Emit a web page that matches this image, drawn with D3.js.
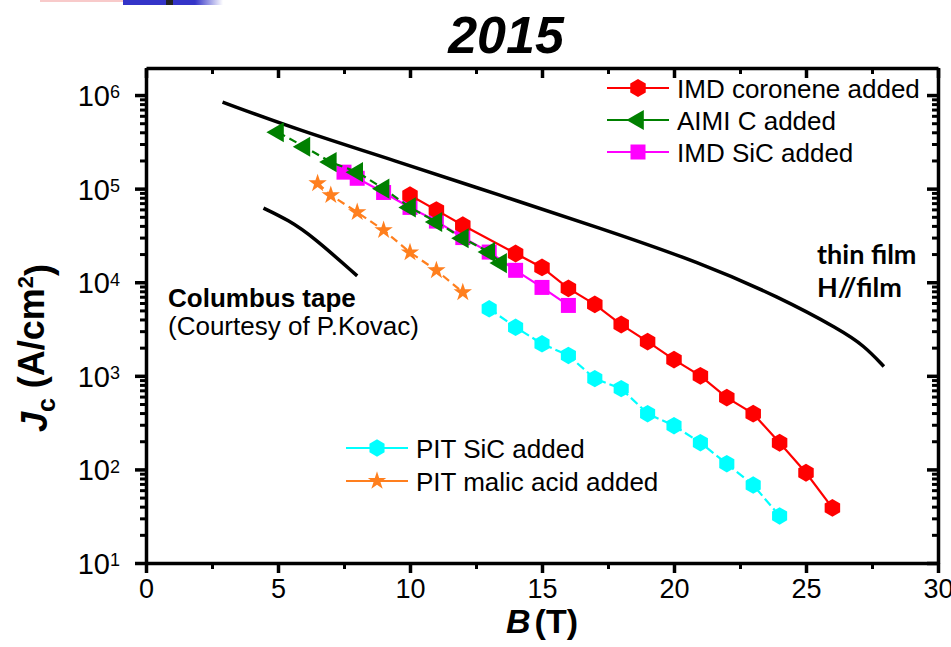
<!DOCTYPE html>
<html>
<head>
<meta charset="utf-8">
<script src="https://cdn.jsdelivr.net/npm/d3@7"></script>
<style>
  body { margin: 0; background: #fff; }
  svg { display: block; font-family: "Liberation Sans", Arial, sans-serif; }
</style>
</head>
<body>
<div id="chart"></div>
<script>
// ---- data ----
const xMajor = [0, 5, 10, 15, 20, 25, 30];
const xMinor = [2.5, 7.5, 12.5, 17.5, 22.5, 27.5];
const yMajor = [1e1, 1e2, 1e3, 1e4, 1e5, 1e6];

// black reference curves
const thinFilmB = [2.9, 5.8, 9.6, 13.4, 17.2, 21.0, 24.0, 26.3, 27.2, 27.95];
const thinFilmJc = [8.4e5, 4.2e5, 1.92e5, 8.5e4, 3.8e4, 1.62e4, 6.9e3, 3.1e3, 2.1e3, 1.26e3];
const columbusB = [4.45, 5.4, 6.3, 8.0];
const columbusJc = [6.2e4, 4.6e4, 3.1e4, 1.17e4];

// IMD coronene added
const coroneneB = [10, 11, 12, 14, 15, 16, 17, 18, 19, 20, 21, 22, 23, 24, 25, 26];
const coroneneJc = [8.5e4, 5.9e4, 4.06e4, 2.03e4, 1.44e4, 8.6e3, 5.8e3, 3.53e3, 2.32e3, 1.49e3, 1.0e3, 585, 394, 193, 92, 38.8];
// AIMI C added
const aimiB = [5, 6, 7, 8, 9, 10, 11, 12, 13, 13.45];
const aimiJc = [4.0e5, 2.8e5, 1.92e5, 1.5e5, 1.0e5, 6.3e4, 4.4e4, 2.95e4, 2.1e4, 1.6e4];
// IMD SiC added
const imdSicB = [7.5, 8, 9, 10, 11, 12, 13, 14, 15, 16];
const imdSicJc = [1.5e5, 1.29e5, 9.1e4, 6.3e4, 4.5e4, 3.0e4, 2.1e4, 1.34e4, 8.8e3, 5.65e3];
// PIT SiC added
const pitSicB = [13, 14, 15, 16, 17, 18, 19, 20, 21, 22, 23, 24];
const pitSicJc = [5.2e3, 3.3e3, 2.2e3, 1.65e3, 933, 730, 394, 293, 193, 115, 68, 31.8];
// PIT malic acid added
const malicB = [6.5, 7, 8, 9, 10, 11, 12];
const malicJc = [1.14e5, 8.5e4, 5.6e4, 3.6e4, 2.08e4, 1.34e4, 7.8e3];

const W = 951, H = 647;
const x = d3.scaleLinear().domain([0, 30]).range([146, 938]);
const y = d3.scaleLog().domain([10, Math.pow(10, 6.289)]).range([563, 68]);

const svg = d3.select("#chart").append("svg")
    .attr("width", W)
    .attr("height", H);

// leftover strip of the slide header at the very top
const grad = svg.append("defs").append("linearGradient").attr("id", "fade");
grad.append("stop").attr("offset", "0").attr("stop-color", "#3434c8");
grad.append("stop").attr("offset", "1").attr("stop-color", "#ffffff");
svg.append("rect").attr("x", 40).attr("y", 0).attr("width", 112).attr("height", 2).attr("fill", "#f8caca");
svg.append("rect").attr("x", 123).attr("y", 0).attr("width", 72).attr("height", 5).attr("fill", "#3434c8");
svg.append("rect").attr("x", 166).attr("y", 0).attr("width", 7).attr("height", 5).attr("fill", "#222");
svg.append("rect").attr("x", 195).attr("y", 0).attr("width", 28).attr("height", 5).attr("fill", "url(#fade)");

// title
svg.append("text")
    .attr("x", 506).attr("y", 53)
    .attr("text-anchor", "middle")
    .attr("font-size", 52).attr("font-weight", "bold").attr("font-style", "italic")
    .text("2015");

// ---- axes (frame with mirrored ticks) ----
const styleAxis = (g) => {
    g.select(".domain").attr("stroke-width", 3.5).attr("stroke", "#000");
    g.selectAll(".tick line").attr("stroke-width", 3.5).attr("stroke", "#000");
};
const styleMinor = (g) => {
    g.select(".domain").remove();
    g.selectAll(".tick line").attr("stroke-width", 3).attr("stroke", "#000");
};

// bottom
svg.append("g")
    .attr("transform", "translate(0," + y.range()[0] + ")")
    .call(d3.axisBottom(x).tickValues(xMajor).tickSize(10).tickSizeOuter(0).tickPadding(6).tickFormat(d3.format("d")))
    .call(styleAxis)
    .call(g => g.selectAll(".tick text").attr("font-size", 27).attr("fill", "#000"));
svg.append("g")
    .attr("transform", "translate(0," + y.range()[0] + ")")
    .call(d3.axisBottom(x).tickValues(xMinor).tickSize(6).tickFormat(""))
    .call(styleMinor);
// top
svg.append("g")
    .attr("transform", "translate(0," + y.range()[1] + ")")
    .call(d3.axisBottom(x).tickValues(xMajor).tickSize(10).tickSizeOuter(0).tickFormat(""))
    .call(styleAxis);
svg.append("g")
    .attr("transform", "translate(0," + y.range()[1] + ")")
    .call(d3.axisBottom(x).tickValues(xMinor).tickSize(6).tickFormat(""))
    .call(styleMinor);

// minor y ticks 2..9 per decade
const yMinor = [];
yMajor.slice(0, -1).forEach(d => { for (let k = 2; k <= 9; k++) yMinor.push(d * k); });

// left
svg.append("g")
    .attr("transform", "translate(" + x.range()[0] + ",0)")
    .call(d3.axisLeft(y).tickValues(yMajor).tickSize(11).tickSizeOuter(0).tickPadding(15))
    .call(styleAxis)
    .call(g => g.selectAll(".tick text").each(function (d) {
        const t = d3.select(this).attr("font-size", 29).attr("fill", "#000").attr("dy", "0.36em");
        t.text(null);
        t.append("tspan").text("10");
        t.append("tspan").attr("dy", "-0.42em").attr("font-size", 18).text(Math.round(Math.log10(d)));
    }));
svg.append("g")
    .attr("transform", "translate(" + x.range()[0] + ",0)")
    .call(d3.axisLeft(y).tickValues(yMinor).tickSize(6).tickFormat(""))
    .call(styleMinor);
// right (ticks pointing inward)
svg.append("g")
    .attr("transform", "translate(" + x.range()[1] + ",0)")
    .call(d3.axisLeft(y).tickValues(yMajor).tickSize(11).tickSizeOuter(0).tickFormat(""))
    .call(styleAxis);
svg.append("g")
    .attr("transform", "translate(" + x.range()[1] + ",0)")
    .call(d3.axisLeft(y).tickValues(yMinor).tickSize(6).tickFormat(""))
    .call(styleMinor);

// axis titles
const yt = svg.append("text")
    .attr("transform", "translate(47,348) rotate(-90)")
    .attr("text-anchor", "middle")
    .attr("font-size", 36).attr("font-weight", "bold");
yt.append("tspan").attr("font-style", "italic").text("J");
yt.append("tspan").attr("font-size", 25).attr("dy", "0.3em").text("c");
yt.append("tspan").attr("dy", "-0.3em").text(" (A/cm");
yt.append("tspan").attr("font-size", 22).attr("dy", "-0.5em").text("2");
yt.append("tspan").attr("dy", "0.5em").text(")");

const xt = svg.append("text")
    .attr("x", 542).attr("y", 633)
    .attr("text-anchor", "middle")
    .attr("font-size", 34).attr("font-weight", "bold");
xt.append("tspan").attr("font-style", "italic").text("B");
xt.append("tspan").attr("dx", 4).text("(T)");

// ---- symbols ----
const hexagon = {
    draw(context, size) {
        const r = Math.sqrt(size);
        for (let i = 0; i < 6; i++) {
            const a = -Math.PI / 2 + i * Math.PI / 3;
            if (i === 0) context.moveTo(r * Math.cos(a), r * Math.sin(a));
            else context.lineTo(r * Math.cos(a), r * Math.sin(a));
        }
        context.closePath();
    }
};

const series = [
    { name: "IMD SiC added", B: imdSicB, Jc: imdSicJc, color: "#ff00ff", type: d3.symbolSquare, size: 225, rot: 0, dash: null },
    { name: "PIT malic acid added", B: malicB, Jc: malicJc, color: "#ff7f1e", type: d3.symbolStar, size: 105, rot: 0, dash: "8,5" },
    { name: "PIT SiC added", B: pitSicB, Jc: pitSicJc, color: "#00ffff", type: hexagon, size: 76, rot: 0, dash: "9,4" },
    { name: "IMD coronene added", B: coroneneB, Jc: coroneneJc, color: "#ff0000", type: hexagon, size: 80, rot: 0, dash: null },
    { name: "AIMI C added", B: aimiB, Jc: aimiJc, color: "#008000", type: d3.symbolTriangle, size: 175, rot: -90, dash: "8,5" }
];
const byName = {};
series.forEach(s => byName[s.name] = s);

const line = d3.line().x(d => x(d[0])).y(d => y(d[1]));
const curve = d3.line().x(d => x(d[0])).y(d => y(d[1])).curve(d3.curveBasis);

// black curves
svg.append("path")
    .datum(d3.zip(thinFilmB, thinFilmJc))
    .attr("d", curve).attr("fill", "none").attr("stroke", "#000").attr("stroke-width", 3.5);
svg.append("path")
    .datum(d3.zip(columbusB, columbusJc))
    .attr("d", curve).attr("fill", "none").attr("stroke", "#000").attr("stroke-width", 3.5);

// data series
series.forEach(s => {
    const pts = d3.zip(s.B, s.Jc);
    svg.append("path")
        .datum(pts)
        .attr("d", line).attr("fill", "none")
        .attr("stroke", s.color).attr("stroke-width", 2.2)
        .attr("stroke-dasharray", s.dash);
    svg.append("g").selectAll("path")
        .data(pts)
        .join("path")
        .attr("d", d3.symbol().type(s.type).size(s.size))
        .attr("transform", d => "translate(" + x(d[0]) + "," + y(d[1]) + ") rotate(" + s.rot + ")")
        .attr("fill", s.color);
});

// annotations
svg.append("text").attr("x", 168).attr("y", 307)
    .attr("font-size", 26).attr("font-weight", "bold").text("Columbus tape");
svg.append("text").attr("x", 168).attr("y", 335)
    .attr("font-size", 26).text("(Courtesy of P.Kovac)");
svg.append("text").attr("x", 817).attr("y", 264)
    .attr("font-family", "Lato, sans-serif")
    .attr("font-size", 27).attr("font-weight", "bold").text("thin film");
svg.append("text").attr("x", 817).attr("y", 297)
    .attr("font-family", "Lato, sans-serif")
    .attr("font-size", 27).attr("font-weight", "bold").text("H//film");

// ---- legends ----
const legendTop = ["IMD coronene added", "AIMI C added", "IMD SiC added"];
const legendBottom = ["PIT SiC added", "PIT malic acid added"];

const drawLegend = (names, x0, y0, dy) => {
    names.forEach((n, i) => {
        const s = byName[n];
        const g = svg.append("g").attr("transform", "translate(" + x0 + "," + (y0 + i * dy) + ")");
        g.append("line").attr("x1", 0).attr("x2", 62).attr("y1", 0).attr("y2", 0)
            .attr("stroke", s.color).attr("stroke-width", 2.2);
        g.append("path")
            .attr("d", d3.symbol().type(s.type).size(s.size)())
            .attr("transform", "translate(31,0) rotate(" + s.rot + ")")
            .attr("fill", s.color);
        g.append("text").attr("x", 70).attr("y", 9.5)
            .attr("font-size", 26).text(n);
    });
};
drawLegend(legendTop, 607, 88, 32);
drawLegend(legendBottom, 346, 448, 33);
</script>
</body>
</html>
